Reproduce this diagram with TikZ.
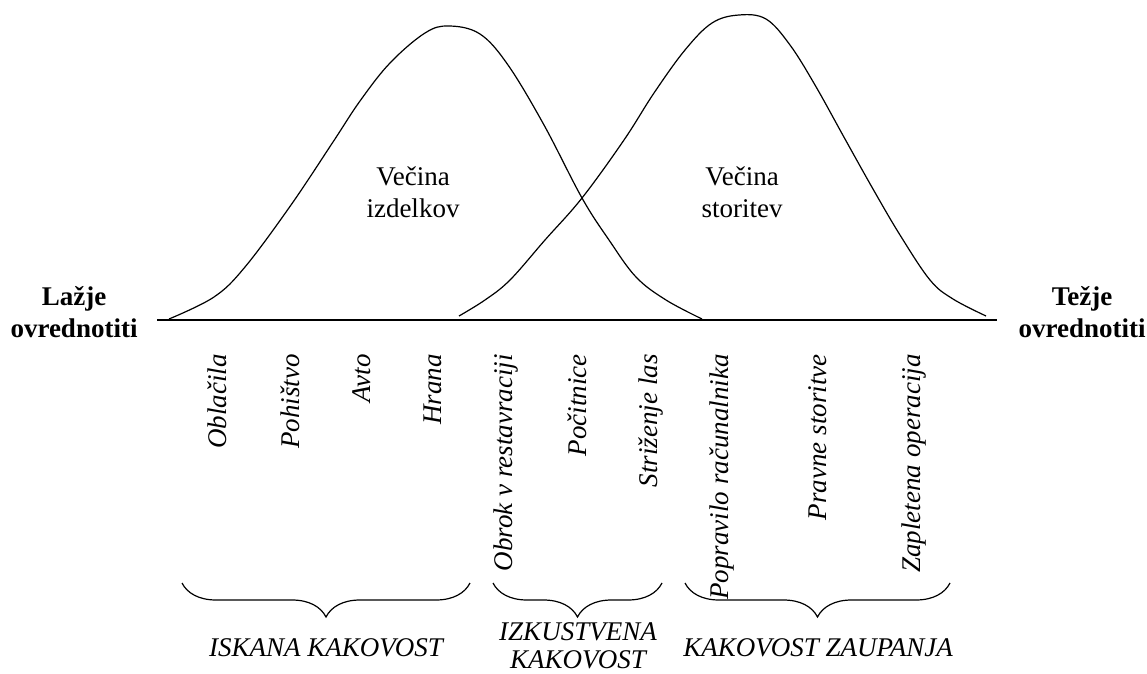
\documentclass[tikz,border=0pt]{standalone}
\usepackage{fontspec}
\setmainfont{Liberation Serif}
\usetikzlibrary{decorations.pathreplacing}
\newcommand{\txt}{\fontsize{13.5}{16}\selectfont}

\begin{document}
\begin{tikzpicture}[x=0.5pt, y=-0.5pt,
		item/.style={font=\txt\itshape, rotate=90, anchor=east, inner sep=0pt},
		side/.style={font=\txt\bfseries, align=center, inner sep=0pt},
		note/.style={font=\txt, align=center, inner sep=0pt},
		kind/.style={font=\fontsize{13.5}{14}\selectfont\itshape, align=center, inner sep=0pt},
		bell/.style={line width=0.6pt, black},
		group/.style={decorate, decoration={brace, mirror, amplitude=17pt}, line width=0.6pt}]
			\useasboundingbox (0,0) rectangle (1147,674);

			% axis
			\coordinate (axisL) at (157,320);
			\coordinate (axisR) at (997,320);
			\draw[line width=1pt] (axisL) -- (axisR);

			% bells
			\draw[bell] plot[smooth, tension=0.6] coordinates {(169,319) (214,297) (245,267) (291,205) (333,142) (360,101) (390,63) (425,33) (449,26) (480,34) (508,65) (544,125) (582,198) (609,240) (636,277) (666,300) (702,319)};
			\draw[bell] plot[smooth, tension=0.6] coordinates {(459,316) (485,300) (510,280) (545,240) (582,198) (624,140) (654,93) (685,50) (712,23) (739,15) (766,19) (790,45) (815,85) (845,139) (873,189) (900,235) (930,280) (953,299) (986,316)};

			\node[note] (izdelki)  at (413,192) {Večina\\izdelkov};
			\node[note] (storitve) at (742,192) {Večina\\storitev};

			\node[side] (lazje) at (74,312)   {Lažje\\ovrednotiti};
			\node[side] (tezje) at (1082,312) {Težje\\ovrednotiti};

			% examples
			\node[item] (oblacila)   at (217,354) {Oblačila};
			\node[item] (pohistvo)   at (290,354) {Pohištvo};
			\node[item] (avto)       at (362,354) {Avto};
			\node[item] (hrana)      at (433,354) {Hrana};
			\node[item] (obrok)      at (506,354) {Obrok v restavraciji};
			\node[item] (pocitnice)  at (577,354) {Počitnice};
			\node[item] (strizenje)  at (651,354) {Striženje las};
			\node[item] (popravilo)  at (722,354) {Popravilo računalnika};
			\node[item] (pravne)     at (818,354) {Pravne storitve};
			\node[item] (operacija)  at (914,354) {Zapletena operacija};

			% groups
			\coordinate (iskL) at (182,583);
			\coordinate (iskR) at (470,583);
			\coordinate (izkL) at (493,583);
			\coordinate (izkR) at (662,583);
			\coordinate (zauL) at (685,583);
			\coordinate (zauR) at (950,583);
			\draw[group] (iskL) -- (iskR);
			\draw[group] (izkL) -- (izkR);
			\draw[group] (zauL) -- (zauR);

			\node[kind] (iskana)     at (326,648) {ISKANA KAKOVOST};
			\node[kind] (izkustvena) at (578,646) {IZKUSTVENA\\KAKOVOST};
			\node[kind] (zaupanje)   at (818,648) {KAKOVOST ZAUPANJA};

		\end{tikzpicture}
\end{document}
